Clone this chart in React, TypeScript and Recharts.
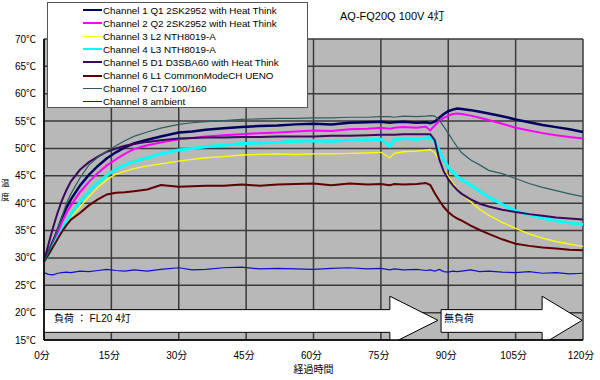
import React from 'react';
import { LineChart, Line, XAxis, YAxis, CartesianGrid, Legend, ReferenceArea } from 'recharts';

const FONT = '"Liberation Sans", Arial, "Noto Sans CJK JP", sans-serif';

// elapsed time (minutes)
const minutes = [
  0, 1, 2, 3, 4, 5, 6,
  8, 10, 12, 14, 16, 18, 20,
  23, 26, 30, 33, 36,
  40, 44, 48, 52, 56, 60,
  64, 68, 72, 75,
  77, 78, 80, 83, 85,
  86, 87, 88, 89, 90,
  91, 92, 93, 95, 97, 99,
  102, 105, 108, 111, 114, 117, 120,
];

// temperatures (℃)
const ch1 = [
  29.3, 31.0, 33.0, 35.0, 37.3, 39.2, 40.7,
  43.2, 45.2, 46.8, 48.2, 49.3, 50.2, 50.9,
  51.6, 52.2, 52.9, 53.1, 53.4,
  53.7, 53.9, 54.1, 54.2, 54.4, 54.5,
  54.4, 54.7, 54.8, 54.9,
  54.7, 54.8, 54.9, 54.7, 54.8,
  54.6, 54.9, 55.6, 56.3, 56.8,
  57.1, 57.3, 57.2, 57.0, 56.7, 56.4,
  55.9, 55.3, 54.8, 54.3, 53.9, 53.5, 53.0,
];
const ch2 = [
  29.3, 30.8, 32.6, 34.4, 36.5, 38.2, 39.6,
  42.0, 43.9, 45.5, 46.9, 48.0, 49.0, 49.9,
  50.6, 51.1, 51.7, 51.9, 52.2,
  52.4, 52.6, 52.8, 52.9, 53.1, 53.3,
  53.2, 53.5, 53.6, 53.8,
  53.6, 53.8, 53.9, 53.8, 54.0,
  53.3, 54.2, 55.0, 55.6, 56.0,
  56.3, 56.4, 56.3, 56.0, 55.6, 55.2,
  54.5, 53.8, 53.3, 52.8, 52.4, 52.1, 51.8,
];
const ch3 = [
  29.3, 30.5, 31.9, 33.3, 34.8, 36.2, 37.4,
  39.3, 41.2, 42.9, 44.3, 45.3, 45.8, 46.3,
  46.8, 47.2, 47.7, 48.0, 48.3,
  48.5, 48.8, 48.9, 49.0, 48.9, 49.0,
  49.0, 49.1, 49.2, 49.3,
  48.3, 49.1, 49.4, 49.5, 49.7,
  49.8, 49.2, 47.8, 46.2, 44.9,
  43.7, 42.6, 41.7, 40.2, 38.9, 37.8,
  36.5, 35.4, 34.4, 33.6, 33.0, 32.5, 32.1,
];
const ch4 = [
  29.3, 30.6, 32.1, 33.6, 35.2, 36.7, 38.0,
  40.2, 42.1, 43.7, 45.1, 46.2, 47.0, 47.6,
  48.3, 49.0, 49.7, 50.0, 50.3,
  50.6, 50.9, 51.0, 51.1, 51.3, 51.4,
  51.3, 51.5, 51.6, 51.7,
  50.4, 51.6, 51.8, 51.7, 51.9,
  52.0, 51.3, 49.6, 47.9, 46.6,
  45.6, 44.9, 44.3, 43.3, 42.2, 41.1,
  39.8, 38.6, 37.9, 37.3, 36.8, 36.4, 36.1,
];
const ch5 = [
  29.3, 32.5, 35.5, 38.2, 40.5, 42.4, 44.0,
  46.1, 47.5, 48.5, 49.4, 50.0, 50.5, 50.8,
  51.2, 51.5, 51.8, 51.9, 52.0,
  52.0, 52.1, 52.1, 52.2, 52.2, 52.2,
  52.3, 52.3, 52.4, 52.5,
  52.5, 52.5, 52.6, 52.6, 52.6,
  52.6, 51.5, 48.0, 45.8, 44.4,
  43.3, 42.4, 41.7, 40.7, 39.9, 39.4,
  38.8, 38.4, 38.0, 37.7, 37.4, 37.2, 37.0,
];
const ch6 = [
  29.3, 30.6, 32.0, 33.4, 34.8, 36.0, 37.0,
  38.2, 39.6, 40.7, 41.6, 41.9, 42.0, 42.2,
  42.5, 43.3, 43.0, 43.1, 43.2,
  43.2, 43.4, 43.2, 43.4, 43.5, 43.6,
  43.3, 43.6, 43.4, 43.5,
  43.3, 43.5, 43.4, 43.5, 43.7,
  43.3, 41.8, 40.5, 39.3, 38.4,
  37.7, 37.2, 36.8, 35.9, 35.1, 34.4,
  33.4, 32.6, 32.2, 31.9, 31.7, 31.5, 31.4,
];
const ch7 = [
  29.3, 31.0, 33.0, 35.2, 37.5, 40.0, 41.7,
  44.6, 47.0, 48.4, 49.5, 50.5, 51.4, 52.2,
  53.0, 53.7, 54.4, 54.7, 54.9,
  55.1, 55.3, 55.4, 55.5, 55.5, 55.6,
  55.6, 55.7, 55.7, 55.8,
  55.8, 55.7, 55.9, 55.8, 55.9,
  56.0, 55.9, 55.2, 54.0, 52.8,
  51.5, 50.3, 49.2, 47.9, 47.0, 46.0,
  45.4, 44.5, 43.6, 42.9, 42.3, 41.7, 41.2,
];
const ch8 = [
  27.3, 27.0, 26.9, 27.2, 27.3, 27.4, 27.3,
  27.6, 27.5, 27.7, 27.9, 27.7, 27.6, 27.8,
  27.6, 27.9, 28.2, 27.8, 27.9,
  28.2, 28.3, 28.0, 28.1, 28.0, 27.9,
  28.1, 28.2, 28.0, 28.1,
  27.8, 28.0, 27.8, 27.9, 27.7,
  27.8, 27.6, 27.9, 27.5, 27.4,
  27.6, 27.5, 27.6, 27.8, 27.5, 27.6,
  27.4, 27.3, 27.5, 27.2, 27.3, 27.1, 27.2,
];

const channelNames = [
  'Channel 1 Q1 2SK2952 with Heat Think',
  'Channel 2 Q2 2SK2952 with Heat Think',
  'Channel 3 L2 NTH8019-A',
  'Channel 4 L3 NTH8019-A',
  'Channel 5 D1 D3SBA60 with Heat Think',
  'Channel 6 L1 CommonModeCH UENO',
  'Channel 7 C17 100/160',
  'Channel 8 ambient',
];
const channelColors = ['#000060', '#ff00ff', '#ffff00', '#00ffff', '#3a0a5e', '#600000', '#2e5e5e', '#1010c8'];
const channelWidths = [2.5, 2, 1.3, 3, 2, 2, 1.2, 1.2];

const timeTicks = [0, 15, 30, 45, 60, 75, 90, 105, 120];
const tempTicks = [15, 20, 25, 30, 35, 40, 45, 50, 55, 60, 65, 70];

// load arrows (minutes / ℃)
const arrowLabels = ['負荷 ： FL20 4灯', '無負荷'];
const arrowStarts = [0, 88.4];
const arrowHeadStarts = [77, 110.9];
const arrowTips = [87.7, 119.8];
const arrowBody = [16.4, 20.55];
const arrowHead = [14.2, 23.0];
const arrowTextPad = [10, 3];

const series = [ch1, ch2, ch3, ch4, ch5, ch6, ch7, ch8];
const data = minutes.map((t, i) => {
  const row: any = { t };
  series.forEach((s, k) => (row['c' + (k + 1)] = s[i]));
  return row;
});

const makeArrow = (i: number) => (p: any) => {
  const { x, y, width, height } = p;
  const s = arrowStarts[i];
  const h = arrowHeadStarts[i];
  const tp = arrowTips[i];
  const px = (v: number) => x + ((v - s) / (tp - s)) * width;
  const py = (v: number) => y + ((arrowHead[1] - v) / (arrowHead[1] - arrowHead[0])) * height;
  const mid = (arrowHead[0] + arrowHead[1]) / 2;
  const pts = [
    [s, arrowBody[1]], [h, arrowBody[1]], [h, arrowHead[1]], [tp, mid],
    [h, arrowHead[0]], [h, arrowBody[0]], [s, arrowBody[0]],
  ].map(([a, b]) => `${px(a)},${py(b)}`).join(' ');
  return (
    <g clipPath={p.clipPath}>
      <polygon points={pts} fill="#fff" stroke="#000" strokeWidth={1} />
      <text x={px(s) + arrowTextPad[i]} y={py((arrowBody[0] + arrowBody[1]) / 2) - 2} fontSize={10} fill="#000" dominantBaseline="central" fontFamily={FONT}>
        {arrowLabels[i]}
      </text>
    </g>
  );
};

const LegendBox = () => (
  <div style={{ width: 261, height: 106, background: '#fff', border: '1px solid #555', boxSizing: 'border-box', fontFamily: FONT, fontSize: 9.8, color: '#000', paddingTop: 0.5 }}>
    {channelNames.map((n, i) => (
      <div key={n} style={{ display: 'flex', alignItems: 'center', height: 13.1, marginLeft: 35 }}>
        <span style={{ width: 19, height: 0, borderTop: `${Math.min(channelWidths[i], 2)}px solid ${channelColors[i]}` }} />
        <span style={{ marginLeft: 1, whiteSpace: 'nowrap' }}>{n}</span>
      </div>
    ))}
  </div>
);

const yTitleStyle: React.CSSProperties = {
  position: 'absolute', left: 1, width: 10, fontSize: 8.5, lineHeight: '12px', color: '#000',
  fontFamily: '"Noto Sans CJK JP", sans-serif',
};

export default function App() {
  return (
    <div style={{ position: 'absolute', left: 0, top: 0, width: 600, height: 380, background: '#fff', fontFamily: FONT }}>
      <LineChart width={600} height={380} data={data} margin={{ top: 39, right: 17, bottom: 0, left: 0 }}>
        <CartesianGrid stroke="#3a3a3a" strokeWidth={1.5} fill="#b8b8b8" fillOpacity={1} />
        <XAxis
          type="number"
          dataKey="t"
          domain={[0, 120]}
          ticks={timeTicks}
          interval={0}
          tickFormatter={(v) => `${v}分`}
          height={40}
          tickSize={0}
          tickMargin={12}
          axisLine={{ stroke: '#000', strokeWidth: 1.5 }}
          tick={{ fill: '#000', fontSize: 10, fontFamily: FONT, dx: -2 }}
          label={{ value: '経過時間', position: 'insideBottom', offset: 7, fill: '#000', fontSize: 10, fontFamily: FONT }}
        />
        <YAxis
          type="number"
          domain={[15, 70]}
          ticks={tempTicks}
          interval={0}
          tickFormatter={(v) => `${v}℃`}
          width={44}
          tickSize={0}
          tickMargin={8}
          axisLine={{ stroke: '#000', strokeWidth: 1.5 }}
          tick={{ fill: '#000', fontSize: 10, fontFamily: FONT }}
        />
        {arrowLabels.map((l, i) => (
          <ReferenceArea
            key={l}
            x1={arrowStarts[i]}
            x2={arrowTips[i]}
            y1={arrowHead[0]}
            y2={arrowHead[1]}
            ifOverflow="hidden"
            shape={makeArrow(i)}
          />
        ))}
        {channelNames.map((n, i) => (
          <Line
            key={n}
            type="linear"
            dataKey={'c' + (i + 1)}
            name={n}
            stroke={channelColors[i]}
            strokeWidth={channelWidths[i]}
            dot={false}
            isAnimationActive={false}
          />
        ))}
        <Legend layout="vertical" align="center" verticalAlign="middle" wrapperStyle={{ left: 47, top: 2, width: 261, height: 106 }} content={<LegendBox />} />
      </LineChart>
      <div style={{ position: 'absolute', left: 340, top: 10, fontSize: 11, lineHeight: '13px', color: '#000', whiteSpace: 'nowrap' }}>AQ-FQ20Q 100V 4灯</div>
      <div style={{ ...yTitleStyle, top: 176 }}>温</div>
      <div style={{ ...yTitleStyle, top: 190 }}>度</div>
    </div>
  );
}
